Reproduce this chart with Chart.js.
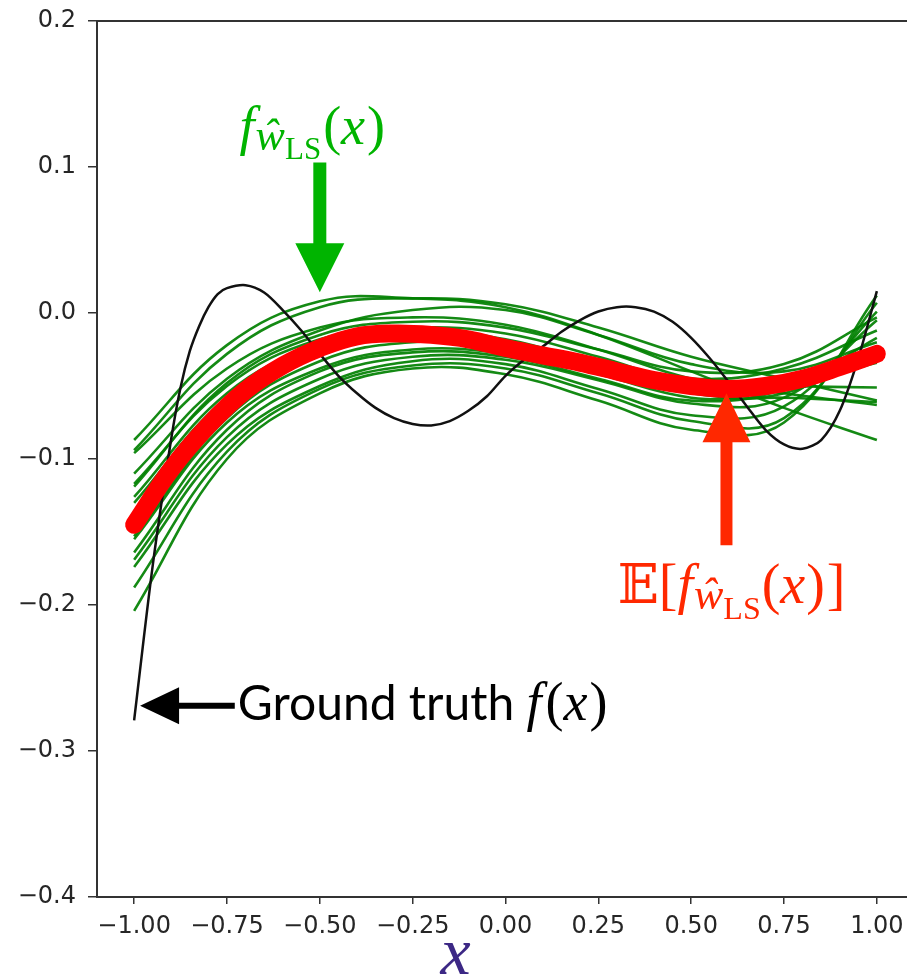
<!DOCTYPE html>
<html>
<head>
<meta charset="utf-8">
<script src="https://cdn.jsdelivr.net/npm/chart.js@4/dist/chart.umd.min.js"></script>
<style>
  html, body { margin: 0; padding: 0; background: #fff; overflow: hidden; }
  canvas { display: block; }
</style>
</head>
<body>
<canvas id="c" width="930" height="976"></canvas>
<script>
// ground truth f(x)
const truthX = [-1, -0.95, -0.9, -0.875, -0.85, -0.825, -0.8, -0.775, -0.75, -0.7, -0.65, -0.6, -0.55, -0.5, -0.45,
  -0.4, -0.35, -0.3, -0.25, -0.2, -0.15, -0.1, -0.05, 0, 0.05, 0.1, 0.15, 0.2, 0.25, 0.3, 0.35, 0.4, 0.45, 0.5,
  0.55, 0.6, 0.65, 0.7, 0.75, 0.8, 0.85, 0.9, 0.95, 1];
const truthY = [-0.279, -0.173, -0.086, -0.051, -0.026, -0.009, 0.004, 0.013, 0.017, 0.019, 0.014, 0.002, -0.012,
  -0.028, -0.043, -0.055, -0.065, -0.072, -0.076, -0.077, -0.074, -0.067, -0.057, -0.043, -0.032, -0.023, -0.013,
  -0.005, 0.001, 0.004, 0.004, 0.001, -0.006, -0.017, -0.031, -0.047, -0.064, -0.080, -0.090, -0.093, -0.087,
  -0.067, -0.031, 0.015];

// expected fit E[f(x)]
const meanX = [-1, -0.9, -0.8, -0.7, -0.6, -0.5, -0.4, -0.3, -0.2, -0.1, 0, 0.1, 0.2, 0.3, 0.4, 0.5, 0.6, 0.7, 0.8, 0.9, 1];
const meanY = [-0.145, -0.107, -0.077, -0.053, -0.036, -0.024, -0.016, -0.014, -0.015, -0.018, -0.024, -0.029,
  -0.034, -0.040, -0.046, -0.050, -0.052, -0.050, -0.045, -0.037, -0.028];

// individual least squares fits
const fitX = [-1, -0.75, -0.5, -0.25, 0, 0.25, 0.5, 0.75, 1];
const fits = [
  [-0.087, -0.022, 0.008, 0.010, 0.004, -0.015, -0.040, -0.065, -0.087],
  [-0.094, -0.028, 0.004, 0.010, 0.006, -0.010, -0.030, -0.045, -0.060],
  [-0.096, -0.038, -0.010, -0.003, -0.008, -0.025, -0.045, -0.055, -0.063],
  [-0.110, -0.045, -0.012, 0.002, 0.002, -0.015, -0.035, -0.040, -0.020],
  [-0.117, -0.050, -0.018, -0.010, -0.014, -0.030, -0.048, -0.050, -0.051],
  [-0.119, -0.048, -0.015, -0.006, -0.010, -0.025, -0.040, -0.035, -0.003],
  [-0.126, -0.055, -0.022, -0.012, -0.018, -0.035, -0.052, -0.050, -0.034],
  [-0.130, -0.058, -0.025, -0.015, -0.020, -0.033, -0.045, -0.038, -0.012],
  [-0.153, -0.072, -0.033, -0.020, -0.024, -0.038, -0.055, -0.055, -0.023],
  [-0.155, -0.075, -0.038, -0.025, -0.028, -0.042, -0.058, -0.058, -0.061],
  [-0.164, -0.080, -0.040, -0.027, -0.030, -0.045, -0.060, -0.052, -0.017],
  [-0.169, -0.085, -0.045, -0.030, -0.032, -0.046, -0.062, -0.058, -0.005],
  [-0.174, -0.090, -0.050, -0.033, -0.035, -0.052, -0.070, -0.064, 0.001],
  [-0.188, -0.095, -0.052, -0.036, -0.038, -0.055, -0.074, -0.072, 0.007],
  [-0.204, -0.100, -0.055, -0.038, -0.042, -0.060, -0.080, -0.075, 0.012]
];

const xTicks = [-1, -0.75, -0.5, -0.25, 0, 0.25, 0.5, 0.75, 1];
const yTicks = [-0.4, -0.3, -0.2, -0.1, 0, 0.1, 0.2];

const toPts = (xs, ys) => xs.map((x, i) => ({ x: x, y: ys[i] }));
const minus = v => v.replace('-', '\u2212');

const SERIF = '"Liberation Serif", "DejaVu Serif", serif';

// draw a row of math pieces starting at (x, y baseline)
function drawPieces(ctx, pieces, x, y, color) {
    ctx.fillStyle = color;
    ctx.textBaseline = 'alphabetic';
    ctx.textAlign = 'left';
    let cx = x;
    pieces.forEach(p => {
        ctx.font = (p.italic ? 'italic ' : '') + p.size + 'px ' + (p.family || SERIF);
        ctx.fillText(p.t, cx, y + (p.dy || 0));
        cx += ctx.measureText(p.t).width + (p.gap || 0);
    });
}

function arrow(ctx, x1, y1, x2, y2, shaftW, headW, headL, color) {
    const ang = Math.atan2(y2 - y1, x2 - x1);
    const len = Math.hypot(x2 - x1, y2 - y1);
    ctx.save();
    ctx.translate(x1, y1);
    ctx.rotate(ang);
    ctx.fillStyle = color;
    ctx.beginPath();
    ctx.moveTo(0, -shaftW / 2);
    ctx.lineTo(len - headL, -shaftW / 2);
    ctx.lineTo(len - headL, -headW / 2);
    ctx.lineTo(len, 0);
    ctx.lineTo(len - headL, headW / 2);
    ctx.lineTo(len - headL, shaftW / 2);
    ctx.lineTo(0, shaftW / 2);
    ctx.closePath();
    ctx.fill();
    ctx.restore();
}

const annotations = {
    id: 'annotations',
    afterDraw(chart) {
        const ctx = chart.ctx;
        const xs = chart.scales.x, ys = chart.scales.y;
        const a = chart.chartArea;
        ctx.save();
        // top / right frame
        ctx.strokeStyle = '#333';
        ctx.lineWidth = 2;
        ctx.beginPath();
        ctx.moveTo(a.left, a.top);
        ctx.lineTo(a.right, a.top);
        ctx.lineTo(a.right, a.bottom);
        ctx.stroke();

        // green label + arrow
        const green = '#00b400';
        arrow(ctx, xs.getPixelForValue(-0.5), ys.getPixelForValue(0.103),
            xs.getPixelForValue(-0.5), ys.getPixelForValue(0.0142), 13, 49, 49, green);
        drawPieces(ctx, [
            { t: 'f', size: 54, italic: true, gap: 1 },
            { t: '\u0175', size: 44, italic: true, dy: 6 },
            { t: 'LS', size: 31, dy: 15, gap: 2 },
            { t: '(', size: 54 },
            { t: 'x', size: 54, italic: true, gap: 2 },
            { t: ')', size: 54 }
        ], xs.getPixelForValue(-0.716), ys.getPixelForValue(0.116), green);

        // red label + arrow
        const red = '#ff2800';
        arrow(ctx, xs.getPixelForValue(0.595), ys.getPixelForValue(-0.159),
            xs.getPixelForValue(0.595), ys.getPixelForValue(-0.055), 12, 48, 49, red);
        drawPieces(ctx, [
            { t: '\uD835\uDD3C', size: 54, gap: 0 },
            { t: '[', size: 56, gap: 0 },
            { t: 'f', size: 56, italic: true, gap: 1 },
            { t: '\u0175', size: 44, italic: true, dy: 6 },
            { t: 'LS', size: 32, dy: 16, gap: 1 },
            { t: '(', size: 56 },
            { t: 'x', size: 56, italic: true, gap: 1 },
            { t: ')', size: 56, gap: 2 },
            { t: ']', size: 56 }
        ], xs.getPixelForValue(0.302), ys.getPixelForValue(-0.1987), red);

        // ground truth label + arrow
        arrow(ctx, xs.getPixelForValue(-0.729), ys.getPixelForValue(-0.269),
            xs.getPixelForValue(-0.984), ys.getPixelForValue(-0.269), 6, 37, 39, '#000');
        drawPieces(ctx, [
            { t: 'Ground truth ', size: 48, family: 'Lato, "Open Sans", sans-serif' },
            { t: 'f', size: 54, italic: true, gap: 4 },
            { t: '(', size: 54 },
            { t: 'x', size: 54, italic: true, gap: 2 },
            { t: ')', size: 54 }
        ], xs.getPixelForValue(-0.721), ys.getPixelForValue(-0.2787), '#000');

        // x axis label
        drawPieces(ctx, [{ t: 'x', size: 68, italic: true }],
            xs.getPixelForValue(-0.175), 974, '#3c2885');
        ctx.restore();
    }
};

const datasets = [
    {
        label: 'E[f]',
        data: toPts(meanX, meanY),
        borderColor: '#ff0000',
        borderWidth: 18,
        borderCapStyle: 'round',
        borderJoinStyle: 'round',
        tension: 0.4,
        pointRadius: 0
    },
    {
        label: 'Ground truth',
        data: toPts(truthX, truthY),
        borderColor: '#111',
        borderWidth: 2.5,
        tension: 0.3,
        pointRadius: 0
    }
].concat(fits.map((ys, i) => ({
    label: 'fit ' + (i + 1),
    data: toPts(fitX, ys),
    borderColor: 'rgba(0, 128, 0, 0.92)',
    borderWidth: 2.6,
    tension: 0.4,
    pointRadius: 0
})));

new Chart(document.getElementById('c'), {
    type: 'line',
    data: { datasets: datasets },
    options: {
        responsive: false,
        animation: false,
        layout: { padding: { top: 21, right: 16, left: 0, bottom: 0 } },
        plugins: {
            legend: { display: false },
            tooltip: { enabled: false }
        },
        scales: {
            x: {
                type: 'linear',
                min: -1.1,
                max: 1.1,
                afterBuildTicks: s => { s.ticks = xTicks.map(v => ({ value: v })); },
                afterFit: s => { s.height = 79; s.paddingLeft = 0; s.paddingRight = 0; },
                border: { color: '#333', width: 2 },
                grid: { drawOnChartArea: false, tickLength: 7, tickColor: '#333', lineWidth: 1.5 },
                ticks: {
                    color: '#262626',
                    padding: 8,
                    maxRotation: 0,
                    font: { family: '"DejaVu Sans"', size: 24 },
                    callback: v => minus(v.toFixed(2))
                }
            },
            y: {
                min: -0.4,
                max: 0.2,
                afterBuildTicks: s => { s.ticks = yTicks.map(v => ({ value: v })); },
                afterFit: s => { s.width = 97; s.paddingTop = 0; s.paddingBottom = 0; },
                border: { color: '#333', width: 2 },
                grid: { drawOnChartArea: false, tickLength: 9, tickColor: '#333', lineWidth: 1.5 },
                ticks: {
                    color: '#262626',
                    padding: 12,
                    font: { family: '"DejaVu Sans"', size: 24 },
                    callback: v => minus(v.toFixed(1))
                }
            }
        }
    },
    plugins: [annotations]
});
</script>
</body>
</html>
